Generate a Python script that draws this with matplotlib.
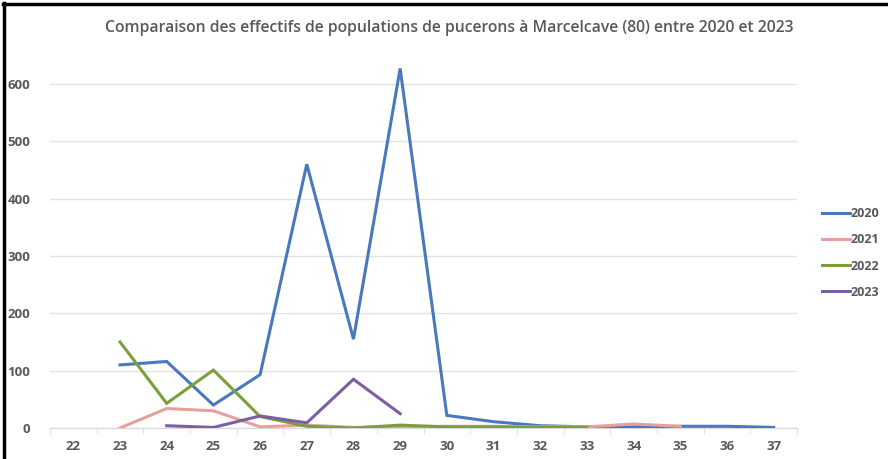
import numpy as np
import matplotlib
matplotlib.use("Agg")
import matplotlib.pyplot as plt
from matplotlib.lines import Line2D

weeks = list(range(22, 38))
nan = np.nan
s2020 = [nan, 110, 116, 40, 93, 460, 155, 627, 22, 11, 4, 2, 2, 3, 3, 1]
s2021 = [nan, 0, 34, 30, 2, 5, 1, 2, 3, 3, 2, 2, 7, 3, nan, nan]
s2022 = [nan, 150, 43, 101, 20, 3, 0, 5, 2, 2, 1, 1, nan, nan, nan, nan]
s2023 = [nan, nan, 4, 1, 21, 9, 85, 25, nan, nan, nan, nan, nan, nan, nan, nan]
series = {"2020": s2020, "2021": s2021, "2022": s2022, "2023": s2023}
colors = {"2020": "#4A78BE", "2021": "#E9A09C", "2022": "#7A9F3C", "2023": "#7D5EA3"}
yticks = [0, 100, 200, 300, 400, 500, 600]
title = "Comparaison des effectifs de populations de pucerons à Marcelcave (80) entre 2020 et 2023"

plt.rcParams['font.family'] = ['Open Sans', 'DejaVu Sans']

W, H = 888, 459
fig = plt.figure(figsize=(W / 100, H / 100), dpi=100)
ax = fig.add_axes([50 / W, (H - 428) / H, (797 - 50) / W, (428 - 61) / H])

x = np.array(weeks)
for name, vals in series.items():
    ax.plot(x, np.array(vals, dtype=float), color=colors[name], lw=2.2,
            solid_joinstyle='miter', label=name, zorder=3)

ax.set_xlim(21.5, 37.5)
ax.set_ylim(0, 640)
ax.set_yticks(yticks)
ax.set_xticks(weeks)
ax.set_xticks(np.arange(21.5, 38.0, 1.0), minor=True)
ax.tick_params(axis='x', which='major', length=0, pad=9, labelsize=9.5, labelcolor='#595959')
ax.tick_params(axis='x', which='minor', length=4, color='#D9D9D9', direction='out')
ax.tick_params(axis='y', length=0, pad=14, labelsize=9.5, labelcolor='#595959')
for lab in ax.get_xticklabels() + ax.get_yticklabels():
    lab.set_fontweight('bold')
ax.grid(axis='y', color='#E3E3E3', lw=1, zorder=0)
for sp in ['top', 'right', 'left']:
    ax.spines[sp].set_visible(False)
ax.spines['bottom'].set_color('#D9D9D9')
ax.spines['bottom'].set_zorder(1)

fig.text(449 / W, 1 - 28 / H, title, ha='center', va='center', fontsize=11.3,
         color='#595959', fontweight='semibold')

handles = [Line2D([], [], color=colors[n], lw=2.2) for n in series]
leg = fig.legend(handles, list(series.keys()), loc='upper left',
                 bbox_to_anchor=(811 / W, 1 - 196 / H), frameon=False,
                 handlelength=2.2, handletextpad=0.1, labelspacing=1.05,
                 prop={'size': 9, 'weight': 'bold'})
for t in leg.get_texts():
    t.set_color('#595959')

# screenshot frame lines
fig.add_artist(Line2D([4 / W, 4 / W], [0, 1 - 3 / H], color='black', lw=2.5, transform=fig.transFigure))
fig.add_artist(Line2D([3 / W, 1], [1 - 4 / H, 1 - 4 / H], color='black', lw=2.5, transform=fig.transFigure))

fig.savefig("out.png", dpi=100)
